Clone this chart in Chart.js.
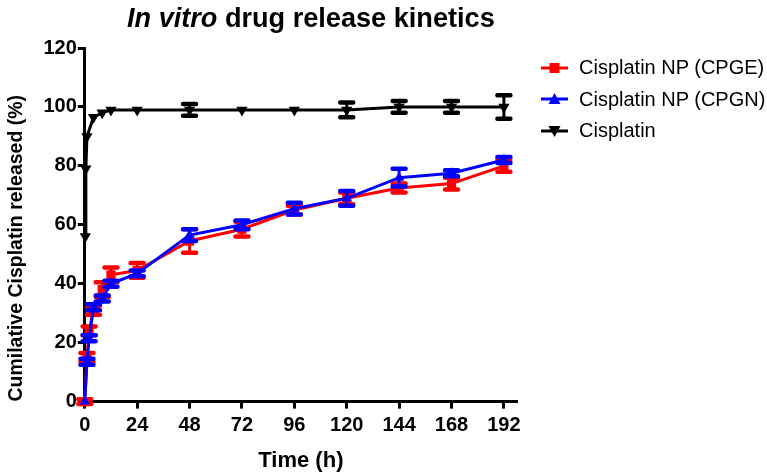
<!DOCTYPE html>
<html>
<head>
<meta charset="utf-8">
<script src="https://cdn.jsdelivr.net/npm/chart.js@4/dist/chart.umd.min.js"></script>
<style>
  html, body { margin: 0; padding: 0; background: #fff; }
  #wrap { position: relative; width: 767px; height: 474px; }
  #title {
    position: absolute; left: 127px; top: 2px; white-space: nowrap;
    font: bold 28px "Liberation Sans", Arial, sans-serif; color: #000;
    transform-origin: 0 0;
  }
  #legend { position: absolute; left: 541px; top: 52px; }
  .item {
    display: flex; align-items: center; height: 31.5px;
    font: 20px "Liberation Sans", Arial, sans-serif; color: #000; white-space: nowrap;
  }
  .item canvas { margin-right: 11px; }
</style>
</head>
<body>
<div id="wrap">
  <div id="title"><i>In vitro</i> drug release kinetics</div>
  <canvas id="chart" width="767" height="474"></canvas>
  <div id="legend"></div>
</div>
<script>
// temps de prélèvement (h)
var timeNp = [0, 1, 2, 4, 8, 12, 24, 48, 72, 96, 120, 144, 168, 192];
var timeCis = [0.25, 0.5, 1, 4, 8, 12, 24, 48, 72, 96, 120, 144, 168, 192];

// % cumulé libéré + écart type
var cpge = [0, 15, 24, 31, 38, 43, 44.5, 54.5, 58.5, 65, 69, 72.5, 74, 80];
var cpgeErr = [0.8, 1.5, 1.5, 1.5, 2.5, 2.5, 2.5, 4, 2.5, 1.5, 2, 1.5, 2, 2];
var cpgn = [0, 13.5, 21.5, 32, 35, 40, 43.5, 56.5, 60, 65.5, 69, 76, 77.5, 82];
var cpgnErr = [0, 1, 1, 1, 1, 1, 1, 2, 1.5, 2, 2.5, 3, 1, 1];
var cis = [56, 79, 90, 96.5, 98, 99, 99, 99, 99, 99, 99, 100, 100, 100];
var cisErr = [0, 0, 0, 0, 0, 0, 0, 2, 0, 0, 2.5, 2, 2, 4];

var seriesLabels = ['Cisplatin NP (CPGE)', 'Cisplatin NP (CPGN)', 'Cisplatin'];
var seriesColors = ['#ff0000', '#0000ff', '#000000'];
var xTicks = [0, 24, 48, 72, 96, 120, 144, 168, 192];

function toPoints(xs, ys) {
    return xs.map(function (x, i) { return { x: x, y: ys[i] }; });
}

// petite image pour la légende : trait + marqueur
function legendIcon(color, shape) {
    var c = document.createElement('canvas');
    c.width = 27; c.height = 14;
    var g = c.getContext('2d');
    g.fillStyle = color; g.strokeStyle = color; g.lineWidth = 3;
    g.beginPath(); g.moveTo(0, 7); g.lineTo(27, 7); g.stroke();
    g.beginPath();
    if (shape === 'rect') {
        g.rect(8.5, 2, 10, 10);
    } else if (shape === 'up') {
        g.moveTo(13.5, 1); g.lineTo(19.5, 12); g.lineTo(7.5, 12);
    } else {
        g.moveTo(7.5, 2); g.lineTo(19.5, 2); g.lineTo(13.5, 13);
    }
    g.closePath(); g.fill();
    return c;
}

// légende en HTML
var legendEl = document.getElementById('legend');
var shapes = ['rect', 'up', 'down'];
seriesLabels.forEach(function (lab, i) {
    var row = document.createElement('div');
    row.className = 'item';
    row.appendChild(legendIcon(seriesColors[i], shapes[i]));
    var span = document.createElement('span');
    span.textContent = lab;
    row.appendChild(span);
    legendEl.appendChild(row);
});

// barres d'erreur dessinées avec les échelles du graphique
var errorBars = {
    id: 'errorBars',
    afterDatasetDraw: function (chart, args) {
        var ds = chart.data.datasets[args.index];
        if (!ds.errors) return;
        var ctx = chart.ctx;
        var yScale = chart.scales.y;
        ctx.save();
        ctx.strokeStyle = ds.borderColor;
        ctx.lineCap = 'round';
        args.meta.data.forEach(function (pt, i) {
            var e = ds.errors[i];
            if (!e) return;
            var v = ds.data[i].y;
            var top = yScale.getPixelForValue(v + e);
            var bot = yScale.getPixelForValue(v - e);
            ctx.lineWidth = 3;
            ctx.beginPath(); ctx.moveTo(pt.x, top); ctx.lineTo(pt.x, bot); ctx.stroke();
            ctx.lineWidth = 4.5;
            ctx.beginPath();
            ctx.moveTo(pt.x - 6.5, top); ctx.lineTo(pt.x + 6.5, top);
            ctx.moveTo(pt.x - 6.5, bot); ctx.lineTo(pt.x + 6.5, bot);
            ctx.stroke();
        });
        ctx.restore();
    }
};

var fontFamily = '"Liberation Sans", Arial, sans-serif';
var tickFont = { family: fontFamily, size: 20, weight: 'bold' };

var chart = new Chart(document.getElementById('chart').getContext('2d'), {
    type: 'line',
    data: {
        datasets: [{
            label: seriesLabels[0],
            data: toPoints(timeNp, cpge),
            errors: cpgeErr,
            borderColor: seriesColors[0],
            backgroundColor: seriesColors[0],
            pointStyle: 'rect',
            pointRadius: 6.5,
            order: 1
        }, {
            label: seriesLabels[1],
            data: toPoints(timeNp, cpgn),
            errors: cpgnErr,
            borderColor: seriesColors[1],
            backgroundColor: seriesColors[1],
            pointStyle: 'triangle',
            pointRadius: 6,
            order: 0
        }, {
            label: seriesLabels[2],
            data: toPoints(timeCis, cis),
            errors: cisErr,
            borderColor: seriesColors[2],
            backgroundColor: seriesColors[2],
            pointStyle: 'triangle',
            pointRotation: 180,
            pointRadius: 6.5,
            order: 2
        }]
    },
    options: {
        responsive: false,
        animation: false,
        devicePixelRatio: 1,
        elements: {
            line: { borderWidth: 3, tension: 0 },
            point: { borderWidth: 0 }
        },
        datasets: { line: { clip: false } },
        layout: { padding: { top: 48, left: 3, right: 250, bottom: 0 } },
        plugins: {
            tooltip: { enabled: false },
            legend: { display: false }
        },
        scales: {
            x: {
                type: 'linear',
                min: 0,
                max: 198,
                afterBuildTicks: function (scale) {
                    scale.ticks = xTicks.map(function (v) { return { value: v }; });
                },
                ticks: { font: tickFont, color: '#000', autoSkip: false, maxRotation: 0, padding: 5 },
                grid: { drawOnChartArea: false, tickLength: 7, tickWidth: 3, tickColor: '#000' },
                border: { color: '#000', width: 3 },
                title: {
                    display: true, text: 'Time (h)', color: '#000',
                    font: { family: fontFamily, size: 22, weight: 'bold' },
                    padding: { top: 5, bottom: 0 }
                }
            },
            y: {
                min: 0,
                max: 120,
                ticks: { stepSize: 20, font: tickFont, color: '#000', padding: 1 },
                grid: { drawOnChartArea: false, tickLength: 7, tickWidth: 3, tickColor: '#000' },
                border: { color: '#000', width: 3 },
                title: {
                    display: true, text: 'Cumilative Cisplatin released (%)', color: '#000',
                    align: 'start',
                    font: { family: fontFamily, size: 19.5, weight: 'bold' },
                    padding: { top: 2, bottom: 14 }
                }
            }
        }
    },
    plugins: [errorBars]
});

// ajuste la largeur du titre sur la référence (~368 px)
var titleEl = document.getElementById('title');
titleEl.style.transform = 'scaleX(' + (368 / titleEl.offsetWidth) + ')';
</script>
</body>
</html>
